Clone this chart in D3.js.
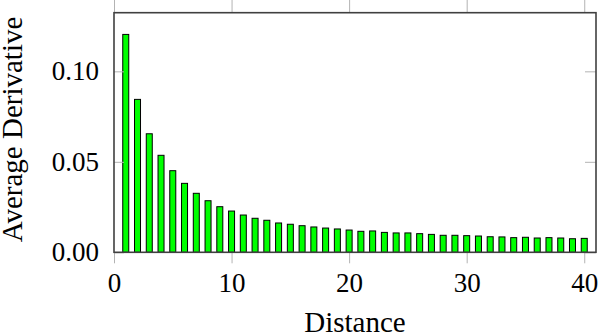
<!DOCTYPE html>
<html>
<head>
<meta charset="utf-8">
<script src="https://cdn.jsdelivr.net/npm/d3@7"></script>
<style>
  html, body { margin: 0; padding: 0; background: #fff; }
  svg text { font-family: "Liberation Serif", "DejaVu Serif", serif; fill: #000; }
</style>
</head>
<body>
<svg id="chart" width="598" height="336"></svg>
<script>
// distance 1..40 and the averaged derivative
const distances = d3.range(1, 41);
const avgDerivative = [
  0.1204, 0.0845, 0.0655, 0.0536, 0.0451, 0.0381, 0.0326, 0.0285, 0.0252, 0.0228,
  0.0206, 0.0188, 0.0177, 0.0162, 0.0155, 0.0147, 0.0140, 0.0134, 0.0129, 0.0123,
  0.0116, 0.0118, 0.0110, 0.0107, 0.0107, 0.0103, 0.0099, 0.0094, 0.0094, 0.0092,
  0.0090, 0.0086, 0.0085, 0.0081, 0.0083, 0.0079, 0.0081, 0.0079, 0.0075, 0.0077
];
const xTicks = [0, 10, 20, 30, 40];
const yTicks = [0, 0.05, 0.10];

const L = 114, R = 596, T = 12.7, B = 252.3;

const svg = d3.select('#chart');
const x = d3.scaleLinear([0, 41], [L, R]);
const y = d3.scaleLinear([0, 0.1324], [B, T]);

const barW = 6;

// bars
svg.append('g')
   .selectAll('rect')
   .data(distances.map((d, i) => ({ d, v: avgDerivative[i] })))
   .join('rect')
     .attr('x', p => x(p.d) - barW / 2)
     .attr('y', p => y(p.v))
     .attr('width', barW)
     .attr('height', p => B - y(p.v))
     .attr('fill', '#00ff00')
     .attr('stroke', '#000')
     .attr('stroke-width', 1);

function styleAxis (g) {
  g.select('.domain').remove();
  g.selectAll('.tick line').attr('stroke', '#b3b3b3').attr('stroke-width', 1);
  g.selectAll('.tick text').attr('font-size', 27).attr('font-family', '"Liberation Serif", serif');
}

// x axes (ticks outside, top has no labels)
svg.append('g')
   .attr('transform', `translate(0,${B})`)
   .call(d3.axisBottom(x).tickValues(xTicks).tickSize(11).tickPadding(10).tickFormat(d3.format('d')))
   .call(styleAxis);

svg.append('g')
   .attr('transform', `translate(0,${T})`)
   .call(d3.axisTop(x).tickValues(xTicks).tickSize(13).tickFormat(''))
   .call(styleAxis);

// y axes (ticks inside)
svg.append('g')
   .attr('transform', `translate(${L},0)`)
   .call(d3.axisLeft(y).tickValues(yTicks).tickSize(-10).tickPadding(15).tickFormat(d3.format('.2f')))
   .call(styleAxis);

svg.append('g')
   .attr('transform', `translate(${R},0)`)
   .call(d3.axisRight(y).tickValues(yTicks).tickSize(-11).tickFormat(''))
   .call(styleAxis);

// frame
svg.append('rect')
   .attr('x', L).attr('y', T)
   .attr('width', R - L).attr('height', B - T)
   .attr('fill', 'none')
   .attr('stroke', '#404040')
   .attr('stroke-width', 1.6);

// labels
svg.append('text')
   .attr('x', (L + R) / 2)
   .attr('y', 332)
   .attr('text-anchor', 'middle')
   .attr('font-size', 29)
   .text('Distance');

svg.append('text')
   .attr('transform', `translate(22,${(T + B) / 2 - 3}) rotate(-90)`)
   .attr('text-anchor', 'middle')
   .attr('font-size', 29)
   .text('Average Derivative');
</script>
</body>
</html>
